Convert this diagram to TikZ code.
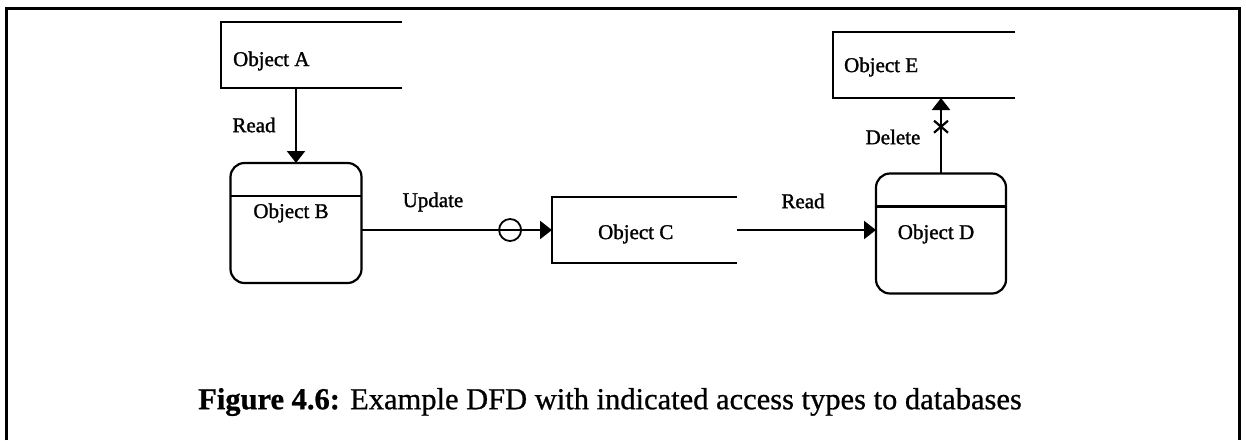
\documentclass[tikz,border=0pt]{standalone}
\usepackage{fontspec}
\setmainfont{Liberation Serif}
\newfontfamily\lblfont[FakeBold=1.3]{Liberation Serif}
\newfontfamily\capfont[FakeBold=0.8]{Liberation Serif}
\usetikzlibrary{arrows.meta}
\begin{document}
\begin{tikzpicture}[x=1pt,y=-1pt,
  line width=2.2pt,
  store/.style={minimum width=#1, minimum height=66pt, inner sep=0pt, outer sep=0pt},
  store/.default=181pt,
  dbase/.style={draw, rounded corners=14pt, minimum width=131pt, minimum height=120pt, inner sep=0pt, outer sep=0pt},
  lbl/.style={font=\lblfont\fontsize{21}{24}\selectfont, inner sep=0pt},
  flow/.style={-{Triangle[length=12pt,width=18pt]}},
]
\useasboundingbox (0,0) rectangle (1246,440);

% outer frame, open at the bottom
\draw[line width=3pt] (6,440) -- (6,8) -- (1239,8) -- (1239,440);

% data stores (open on the right)
\node[store] (A) at (311.5,55) {};
\node[store=185pt] (C) at (644.5,230) {};
\node[store=182pt] (E) at (924,65) {};
\foreach \s in {A,C,E}
  \draw (\s.north east) -- (\s.north west) -- (\s.south west) -- (\s.south east);

\node[lbl, anchor=west] (At) at (232,61) {Object A};
\node[lbl, anchor=west] (Ct) at (597,234) {Object C};
\node[lbl, anchor=west] (Et) at (843,67) {Object E};

% databases with a header band
\node[dbase] (B) at (296,223) {};
\node[dbase, minimum width=130pt] (D) at (941,233.5) {};
\draw ([yshift=-33pt]B.north west) -- ([yshift=-33pt]B.north east);
\draw ([yshift=-33pt]D.north west) -- ([yshift=-33pt]D.north east);
\node[lbl] (Bt) at (291,213) {Object B};
\node[lbl] (Dt) at (936,234) {Object D};

% flows
\draw[flow] (A.south -| B.north) -- (B.north);
\node[lbl] (r1) at (254,125) {Read};

\draw[flow] (B.east |- C.west) -- (C.west)
  node[pos=0.78, draw, circle, minimum size=22pt, inner sep=0pt, line width=1.8pt] (upd) {};
\node[lbl] (u1) at (433,202) {Update};

\draw[flow] (C.east) -- (C.east -| D.west);
\node[lbl] (r2) at (803,201) {Read};

\draw[flow] (D.north) -- (D.north |- E.south)
  coordinate[pos=0.62] (del);
\draw ([shift={(-7pt,-6pt)}]del) -- ([shift={(7pt,6pt)}]del)
      ([shift={(-7pt,6pt)}]del) -- ([shift={(7pt,-6pt)}]del);
\node[lbl] (d1) at (893,137) {Delete};

% caption
\node[font=\capfont\fontsize{30.5}{34}\selectfont, inner sep=0pt] (cap) at (610,402)
  {\textbf{Figure 4.6:} Example DFD with indicated access types to databases};
\end{tikzpicture}
\end{document}
